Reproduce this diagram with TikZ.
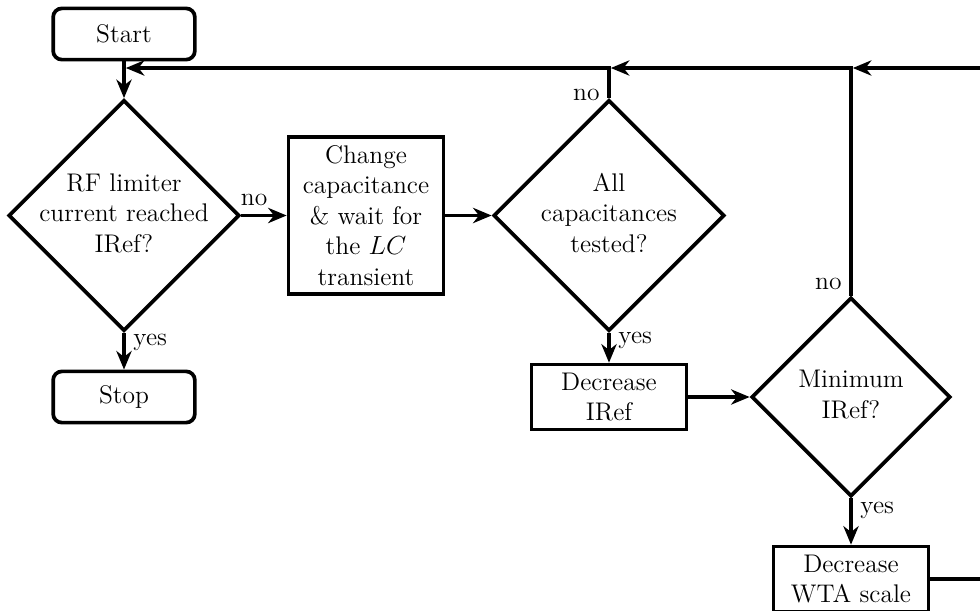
\documentclass[tikz,border=0pt]{standalone}
\usetikzlibrary{shapes.geometric,arrows.meta}
\begin{document}
\begin{tikzpicture}[x=0.4587pt,y=-0.4587pt,
  font=\fontsize{11.7}{14}\selectfont,
  line width=1.7pt,
  term/.style={draw, rounded corners=4pt, minimum width=65pt, minimum height=23.5pt, inner sep=1pt},
  proc/.style={draw, align=center, minimum width=71.1pt, inner xsep=1pt, inner ysep=0.5pt},
  decision/.style={draw, diamond, inner sep=0pt},
  arr/.style={-{Stealth[length=8.5pt,width=7pt,inset=2.7pt]}},
  lbl/.style={inner sep=3.5pt}]
\useasboundingbox (0,0) rectangle (980,610);
\clip (0,0) rectangle (980,610);
\node[term] (start) at (124,34) {Start};
\node[decision, minimum width=106pt, minimum height=106pt] (d1) at (124,215.5)
  {\makebox[0pt]{\begin{tabular}{@{}c@{}}RF limiter\\current reached\\IRef?\end{tabular}}};
\node[term] (stop) at (124,397) {Stop};
\node[proc, minimum height=72pt] (change) at (366,215.5)
  {Change\\capacitance\\\& wait for\\the $LC$\\transient};
\node[decision, minimum width=106pt, minimum height=106pt] (d2) at (609,215.5)
  {\makebox[0pt]{\begin{tabular}{@{}c@{}}All\\capacitances\\tested?\end{tabular}}};
\node[proc, minimum height=29.8pt] (dec) at (609,397) {Decrease\\IRef};
\node[decision, minimum width=91.3pt, minimum height=91.3pt] (d3) at (851,397)
  {\makebox[0pt]{\begin{tabular}{@{}c@{}}Minimum\\IRef?\end{tabular}}};
\node[proc, minimum height=29.8pt] (wta) at (851,579) {Decrease\\WTA scale};
\coordinate (j1) at (124,68);
\coordinate (j2) at (609,68);
\coordinate (j3) at (851,68);
\coordinate (c1) at (1000,579);
\coordinate (c2) at (1000,68);
\draw[arr] (start) -- (d1);
\draw[arr] (d1) -- node[lbl, above, pos=0.28] {no} (change);
\draw[arr] (d1) -- node[lbl, right, pos=0.25] {yes} (stop);
\draw[arr] (change) -- (d2);
\draw[arr] (d2) -- node[lbl, right, pos=0.25] {yes} (dec);
\draw[arr] (dec) -- (d3);
\draw[arr] (d3) -- node[lbl, right, pos=0.25] {yes} (wta);
\draw[arr, shorten >=0.85pt] (d2.north) -- node[lbl, left, pos=0.1] {no} (j2) -- (j1);
\draw[arr, shorten >=0.85pt] (d3.north) -- node[lbl, left, pos=0.05] {no} (j3) -- (j2);
\draw[arr, shorten >=0.85pt] (wta.east) -- (c1) -- (c2) -- (j3);
\end{tikzpicture}
\end{document}
